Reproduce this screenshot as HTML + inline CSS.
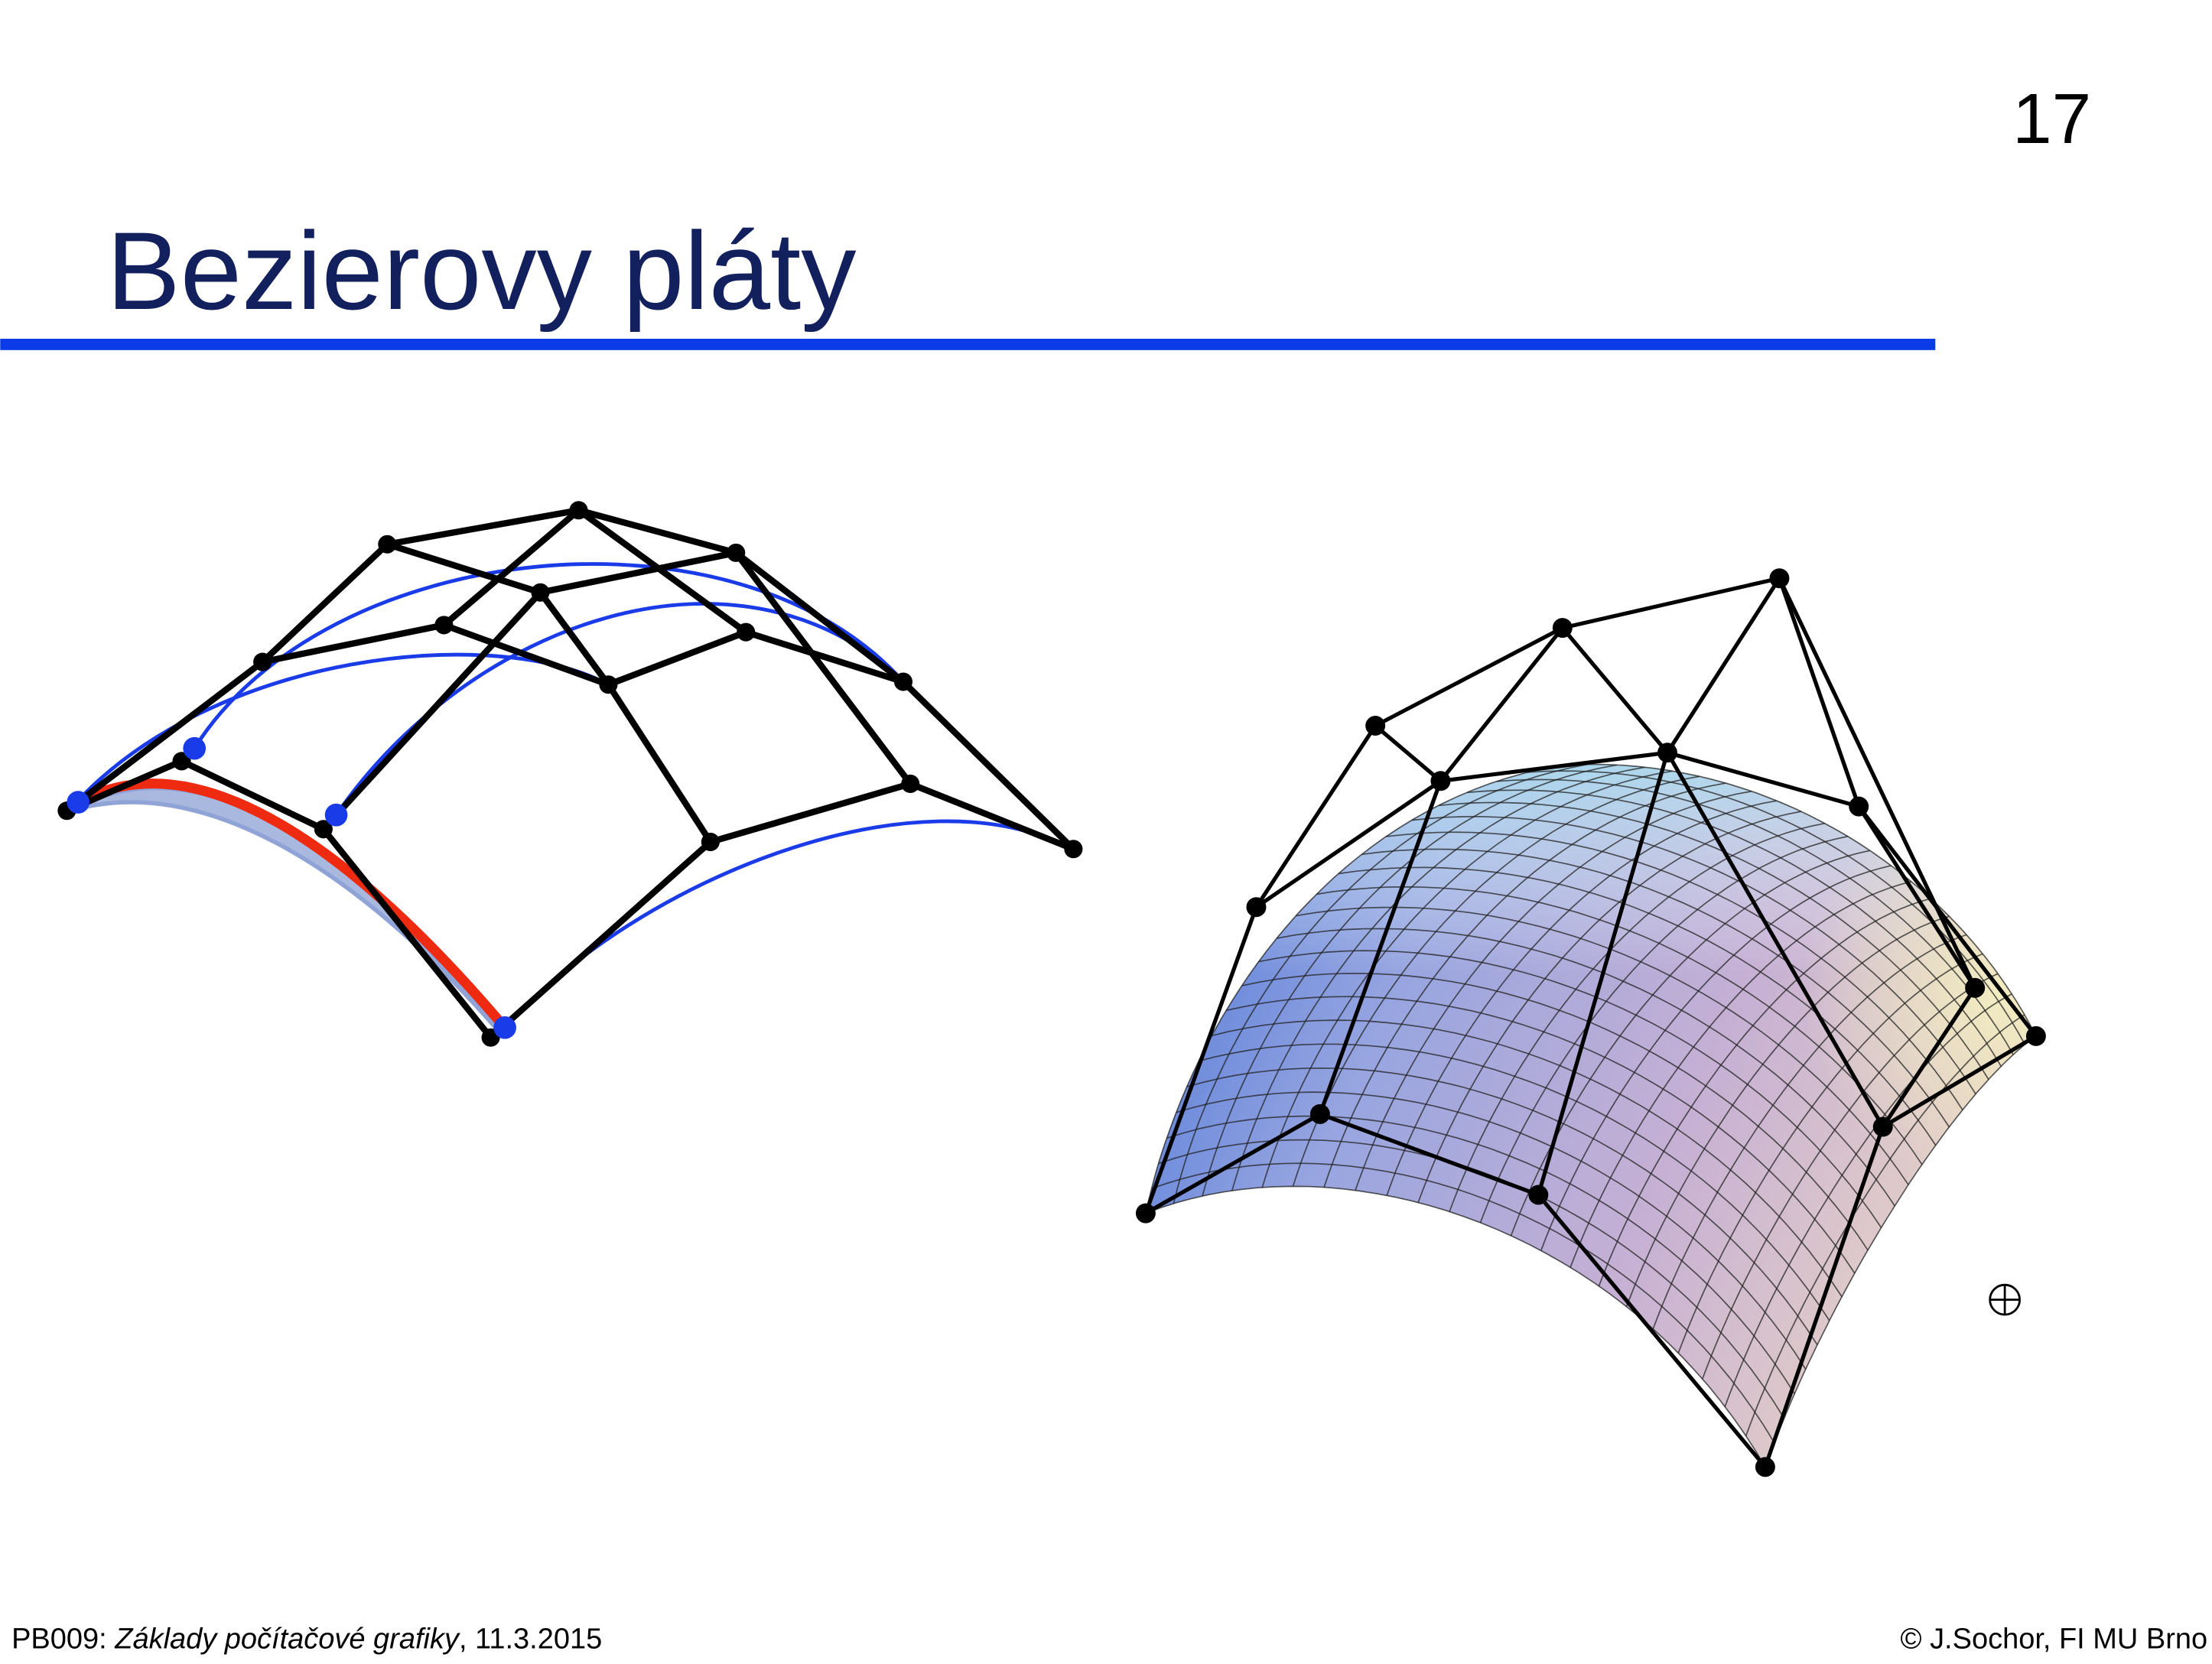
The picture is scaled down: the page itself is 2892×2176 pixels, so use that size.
<!DOCTYPE html>
<html><head><meta charset="utf-8"><style>
html,body{margin:0;padding:0;background:#fff;}
svg{display:block;}
</style></head><body>
<svg width="2892" height="2176" viewBox="0 0 1560 1174" xmlns="http://www.w3.org/2000/svg">
<defs>
<linearGradient id="sg" x1="0" y1="0" x2="1" y2="0.35">
<stop offset="0" stop-color="#4573d8"/>
<stop offset="0.35" stop-color="#97a5e0"/>
<stop offset="0.7" stop-color="#c6b0d4"/>
<stop offset="1" stop-color="#e4cfc8"/>
</linearGradient>
<linearGradient id="sg2" x1="0" y1="0" x2="0" y2="1">
<stop offset="0" stop-color="#aee3f0" stop-opacity="0.8"/>
<stop offset="0.3" stop-color="#ffffff" stop-opacity="0"/>
</linearGradient>
<radialGradient id="sg3" cx="1410" cy="700" r="140" gradientUnits="userSpaceOnUse">
<stop offset="0" stop-color="#f4f0c0" stop-opacity="0.9"/>
<stop offset="1" stop-color="#f4f0c0" stop-opacity="0"/>
</radialGradient>
</defs>
<text x="1475" y="101" text-anchor="end" font-family="Liberation Sans, sans-serif" font-size="50" fill="#000">17</text>
<text x="75" y="218" font-family="Liberation Sans, sans-serif" font-size="78" fill="#13205e">Bezierovy pláty</text>
<rect x="0" y="239" width="1365" height="8" fill="#0b3be6"/>

<g id="left"></g>
<g id="right"></g>

<g stroke="#000" stroke-width="1.5" fill="none">
<circle cx="1414" cy="917" r="10.5"/><line x1="1403" y1="917" x2="1425" y2="917"/><line x1="1414" y1="906" x2="1414" y2="928"/>
</g>

<text x="8" y="1163" font-family="Liberation Sans, sans-serif" font-size="20.5" fill="#000">PB009: <tspan font-style="italic">Základy počítačové grafiky</tspan>, 11.3.2015</text>
<text x="1557" y="1163" text-anchor="end" font-family="Liberation Sans, sans-serif" font-size="20.5" fill="#000">© J.Sochor, FI MU Brno</text>
</svg>
<script>
const NS='http://www.w3.org/2000/svg';
// left control net points
const ptsL={A:[47,572],B:[128,537],C:[228,585],D:[346,732],E:[501,594],F:[642,553],G:[757,599],
H:[185,467],I:[273,384],J:[408,360],K:[519,390],L:[637,481],M:[313,441],N:[381,418],O:[429,483],P:[526,446]};
const edgesL=['AH','HI','IJ','AB','BC','CD','DE','EF','FG','JK','KL','LG','HM','MO','OP','PL','IN','NK','JM','NC','NO','OE','JP','KF'];
const blueCurves=[
'M137,528 C 230,380 520,350 637,481',
'M237,575 C 330,440 520,370 637,481',
'M52,568 C 150,460 350,440 429,483',
'M356,725 C 450,620 650,540 757,600'];
const blueDots=[[55,566],[137,528],[237,575],[356,725]];
// right control net
const ptsR=[[808,856],[931,786],[1085,843],[1245,1035],[886,640],[1016,551],[1176,531],[1328,795],[970,512],[1102,443],[1255,408],[1393,697],[1311,569],[1436,731]];
const edgesR=[[0,1],[1,2],[2,3],[0,4],[4,8],[8,9],[9,10],[8,5],[9,5],[9,6],[10,6],[10,12],[10,11],[12,13],[5,6],[6,12],[4,5],[5,1],[6,2],[6,7],[11,7],[13,7],[7,3],[12,11]];
function mk(tag,attrs,parent,name){const e=document.createElementNS(NS,tag);for(const k in attrs)e.setAttribute(k,attrs[k]);


parent.appendChild(e);return e;}
function bz(p,t){const u=1-t;return [u*u*u*p[0][0]+3*u*u*t*p[1][0]+3*u*t*t*p[2][0]+t*t*t*p[3][0],u*u*u*p[0][1]+3*u*u*t*p[1][1]+3*u*t*t*p[2][1]+t*t*t*p[3][1]];}
const L=document.getElementById('left');
mk('path',{d:'M50,572 C 140,520 250,600 352,728 C 250,610 140,545 50,572 Z',fill:'#a9b8de',stroke:'#8fa3d6','stroke-width':3},L,'surface-edge-shading');
blueCurves.forEach(d=>mk('path',{d,fill:'none',stroke:'#1a3be8','stroke-width':2.6},L,'blue-iso-curve'));
mk('path',{d:'M55,566 C 140,520 250,600 356,725',fill:'none',stroke:'#ee2a10','stroke-width':7},L,'red-boundary-curve');
edgesL.forEach(e=>{const a=ptsL[e[0]],b=ptsL[e[1]];mk('line',{x1:a[0],y1:a[1],x2:b[0],y2:b[1],stroke:'#000','stroke-width':4.5,'stroke-linecap':'round'},L,'control-net-line');});
Object.values(ptsL).forEach(p=>mk('circle',{cx:p[0],cy:p[1],r:6.5,fill:'#000'},L,'control-point'));
blueDots.forEach(p=>mk('circle',{cx:p[0],cy:p[1],r:8,fill:'#1a3be8'},L,'curve-point'));
// right surface: coons patch
const R=document.getElementById('right');
const AB=[[808,856],[835,730],[930,570],[1100,540]];
const DC=[[1245,1035],[1290,910],[1380,770],[1436,731]];
const AD=[[808,856],[950,800],[1150,870],[1245,1035]];
const BC=[[1100,540],[1250,530],[1380,620],[1436,731]];
function coons(s,t){const a=bz(AD,s),b=bz(BC,s),c=bz(AB,t),d=bz(DC,t);
const P00=AB[0],P01=AB[3],P10=DC[0],P11=DC[3];
return [0,1].map(k=>(1-t)*a[k]+t*b[k]+(1-s)*c[k]+s*d[k]-((1-s)*(1-t)*P00[k]+(1-s)*t*P01[k]+s*(1-t)*P10[k]+s*t*P11[k]));}
let outline='';const N=40;
for(let k=0;k<=N;k++){const p=coons(0,k/N);outline+=(k?'L':'M')+p.join(',');}
for(let k=0;k<=N;k++){const p=coons(k/N,1);outline+='L'+p.join(',');}
for(let k=N;k>=0;k--){const p=coons(1,k/N);outline+='L'+p.join(',');}
for(let k=N;k>=0;k--){const p=coons(k/N,0);outline+='L'+p.join(',');}
mk('path',{d:outline+'Z',fill:'url(#sg)'},R,'surface-fill');
mk('path',{d:outline+'Z',fill:'url(#sg2)'},R,'surface-highlight');
mk('path',{d:outline+'Z',fill:'url(#sg3)'},R,'surface-highlight-warm');
const G=22;
for(let g=0;g<=G;g++){let d1='',d2='';for(let k=0;k<=N;k++){const p=coons(g/G,k/N),q=coons(k/N,g/G);d1+=(k?'L':'M')+p[0].toFixed(1)+','+p[1].toFixed(1);d2+=(k?'L':'M')+q[0].toFixed(1)+','+q[1].toFixed(1);}
mk('path',{d:d1,fill:'none',stroke:'#222','stroke-width':0.9,'stroke-opacity':0.75},R,'surface-grid-line');
mk('path',{d:d2,fill:'none',stroke:'#222','stroke-width':0.9,'stroke-opacity':0.75},R,'surface-grid-line');}
edgesR.forEach(e=>{const a=ptsR[e[0]],b=ptsR[e[1]];mk('line',{x1:a[0],y1:a[1],x2:b[0],y2:b[1],stroke:'#000','stroke-width':2.8},R,'control-net-line');});
ptsR.forEach(p=>mk('circle',{cx:p[0],cy:p[1],r:7,fill:'#000'},R,'control-point'));
</script>
</body></html>
